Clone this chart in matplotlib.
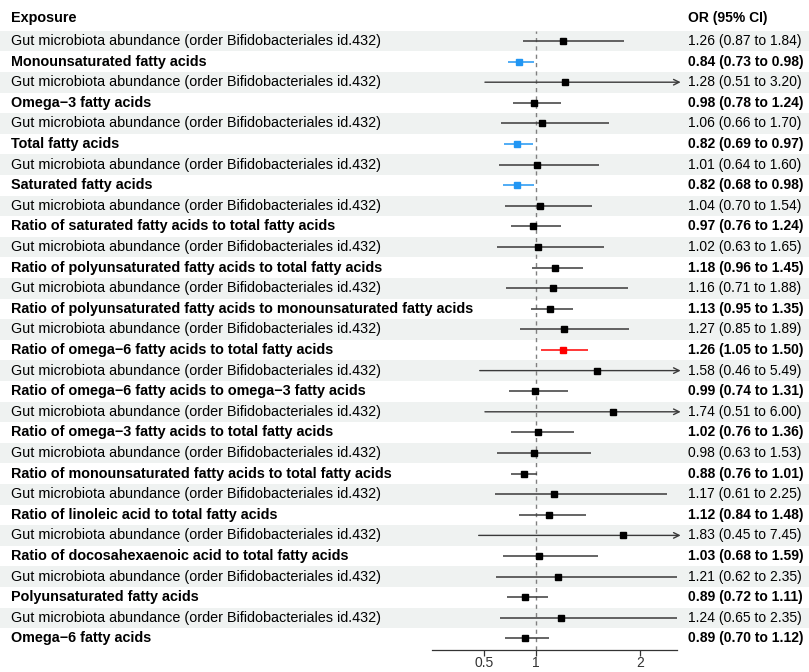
import matplotlib
matplotlib.use("Agg")
import matplotlib.pyplot as plt

plt.rcParams['font.family'] = ['Liberation Sans', 'DejaVu Sans']

gut = "Gut microbiota abundance (order Bifidobacteriales id.432)"
outcomes = [
    "Monounsaturated fatty acids",
    "Omega\u22123 fatty acids",
    "Total fatty acids",
    "Saturated fatty acids",
    "Ratio of saturated fatty acids to total fatty acids",
    "Ratio of polyunsaturated fatty acids to total fatty acids",
    "Ratio of polyunsaturated fatty acids to monounsaturated fatty acids",
    "Ratio of omega\u22126 fatty acids to total fatty acids",
    "Ratio of omega\u22126 fatty acids to omega\u22123 fatty acids",
    "Ratio of omega\u22123 fatty acids to total fatty acids",
    "Ratio of monounsaturated fatty acids to total fatty acids",
    "Ratio of linoleic acid to total fatty acids",
    "Ratio of docosahexaenoic acid to total fatty acids",
    "Polyunsaturated fatty acids",
    "Omega\u22126 fatty acids",
]

# rows alternate: gut exposure row, then outcome row
labels = []
for o in outcomes:
    labels += [gut, o]

or_vals = [1.26, 0.84, 1.28, 0.98, 1.06, 0.82, 1.01, 0.82, 1.04, 0.97,
           1.02, 1.18, 1.16, 1.13, 1.27, 1.26, 1.58, 0.99, 1.74, 1.02,
           0.98, 0.88, 1.17, 1.12, 1.83, 1.03, 1.21, 0.89, 1.24, 0.89]
lower = [0.87, 0.73, 0.51, 0.78, 0.66, 0.69, 0.64, 0.68, 0.70, 0.76,
         0.63, 0.96, 0.71, 0.95, 0.85, 1.05, 0.46, 0.74, 0.51, 0.76,
         0.63, 0.76, 0.61, 0.84, 0.45, 0.68, 0.62, 0.72, 0.65, 0.70]
upper = [1.84, 0.98, 3.20, 1.24, 1.70, 0.97, 1.60, 0.98, 1.54, 1.24,
         1.65, 1.45, 1.88, 1.35, 1.89, 1.50, 5.49, 1.31, 6.00, 1.36,
         1.53, 1.01, 2.25, 1.48, 7.45, 1.59, 2.35, 1.11, 2.35, 1.12]

xticks = [0.5, 1, 2]
xticklabels = ['0.5', '1', '2']
xlim = (0.0, 2.35)

W, H = 809, 672
fig = plt.figure(figsize=(W / 100, H / 100), dpi=100)

n = len(labels)
row0_px = 41.0
step_px = 20.6

def px_to_row(ypx):
    return (ypx - row0_px) / step_px + 1

# background axes: x in pixels, y in row units
bg = fig.add_axes([0, 0, 1, 1])
bg.set_xlim(0, W)
bg.set_ylim(px_to_row(H), px_to_row(0))
bg.axis('off')

band_col = '#eff2f1'
for i in range(n):
    r = i + 1
    if i % 2 == 0:
        bg.axhspan(r - 0.5, r + 0.5, color=band_col, lw=0, zorder=0)

fs_left = 10.4
fs_right = 10
bg.text(11, px_to_row(18), "Exposure", fontsize=fs_left, fontweight='bold',
        va='center', ha='left', color='black')
bg.text(688, px_to_row(18), "OR (95% CI)", fontsize=fs_right, fontweight='bold',
        va='center', ha='left', color='black')
for i in range(n):
    r = i + 1
    bold = (i % 2 == 1)
    bg.text(11, r, labels[i], fontsize=fs_left, fontweight='bold' if bold else 'normal',
            va='center', ha='left', color='black')
    s = f"{or_vals[i]:.2f} ({lower[i]:.2f} to {upper[i]:.2f})"
    bg.text(688, r, s, fontsize=fs_right, fontweight='bold' if bold else 'normal',
            va='center', ha='left', color='black')

# forest axes
x0_px, x1_px = 431.7, 677.0
axis_px = 650.0
top_row_px = row0_px - step_px / 2
ax = fig.add_axes([x0_px / W, 1 - axis_px / H, (x1_px - x0_px) / W,
                   (axis_px - top_row_px) / H])
ax.patch.set_alpha(0)
ax.set_xlim(*xlim)
ax.set_ylim(px_to_row(axis_px), 0.5)
for sp in ['top', 'right', 'left']:
    ax.spines[sp].set_visible(False)
ax.spines['bottom'].set_color('#333333')
ax.spines['bottom'].set_linewidth(0.9)
ax.set_yticks([])
ax.set_xticks(xticks)
ax.set_xticklabels(xticklabels)
ax.tick_params(axis='x', length=4, width=0.9, color='#333333',
               labelsize=10, labelcolor='#333333', pad=0.5)

ax.axvline(1, color='#808080', ls=(0, (3, 3)), lw=1.0, zorder=1)

for i in range(n):
    r = i + 1
    if upper[i] < 1:
        col = '#2196F3'
    elif lower[i] > 1:
        col = '#FF0000'
    else:
        col = 'black'
    lcol = col if col != 'black' else '#3a3a3a'
    if upper[i] > xlim[1]:
        ax.annotate('', xy=(xlim[1] + 0.035, r), xytext=(lower[i], r),
                    arrowprops=dict(arrowstyle='->', color=lcol, lw=1.0,
                                    shrinkA=0, shrinkB=0, mutation_scale=10),
                    annotation_clip=False)
    else:
        ax.plot([lower[i], upper[i]], [r, r], color=lcol, lw=1.1, zorder=2,
                solid_capstyle='butt')
    ax.plot(or_vals[i], r, marker='s', ms=3.8, color=col, mec=col, zorder=3)

fig.savefig('out.png', dpi=100)
